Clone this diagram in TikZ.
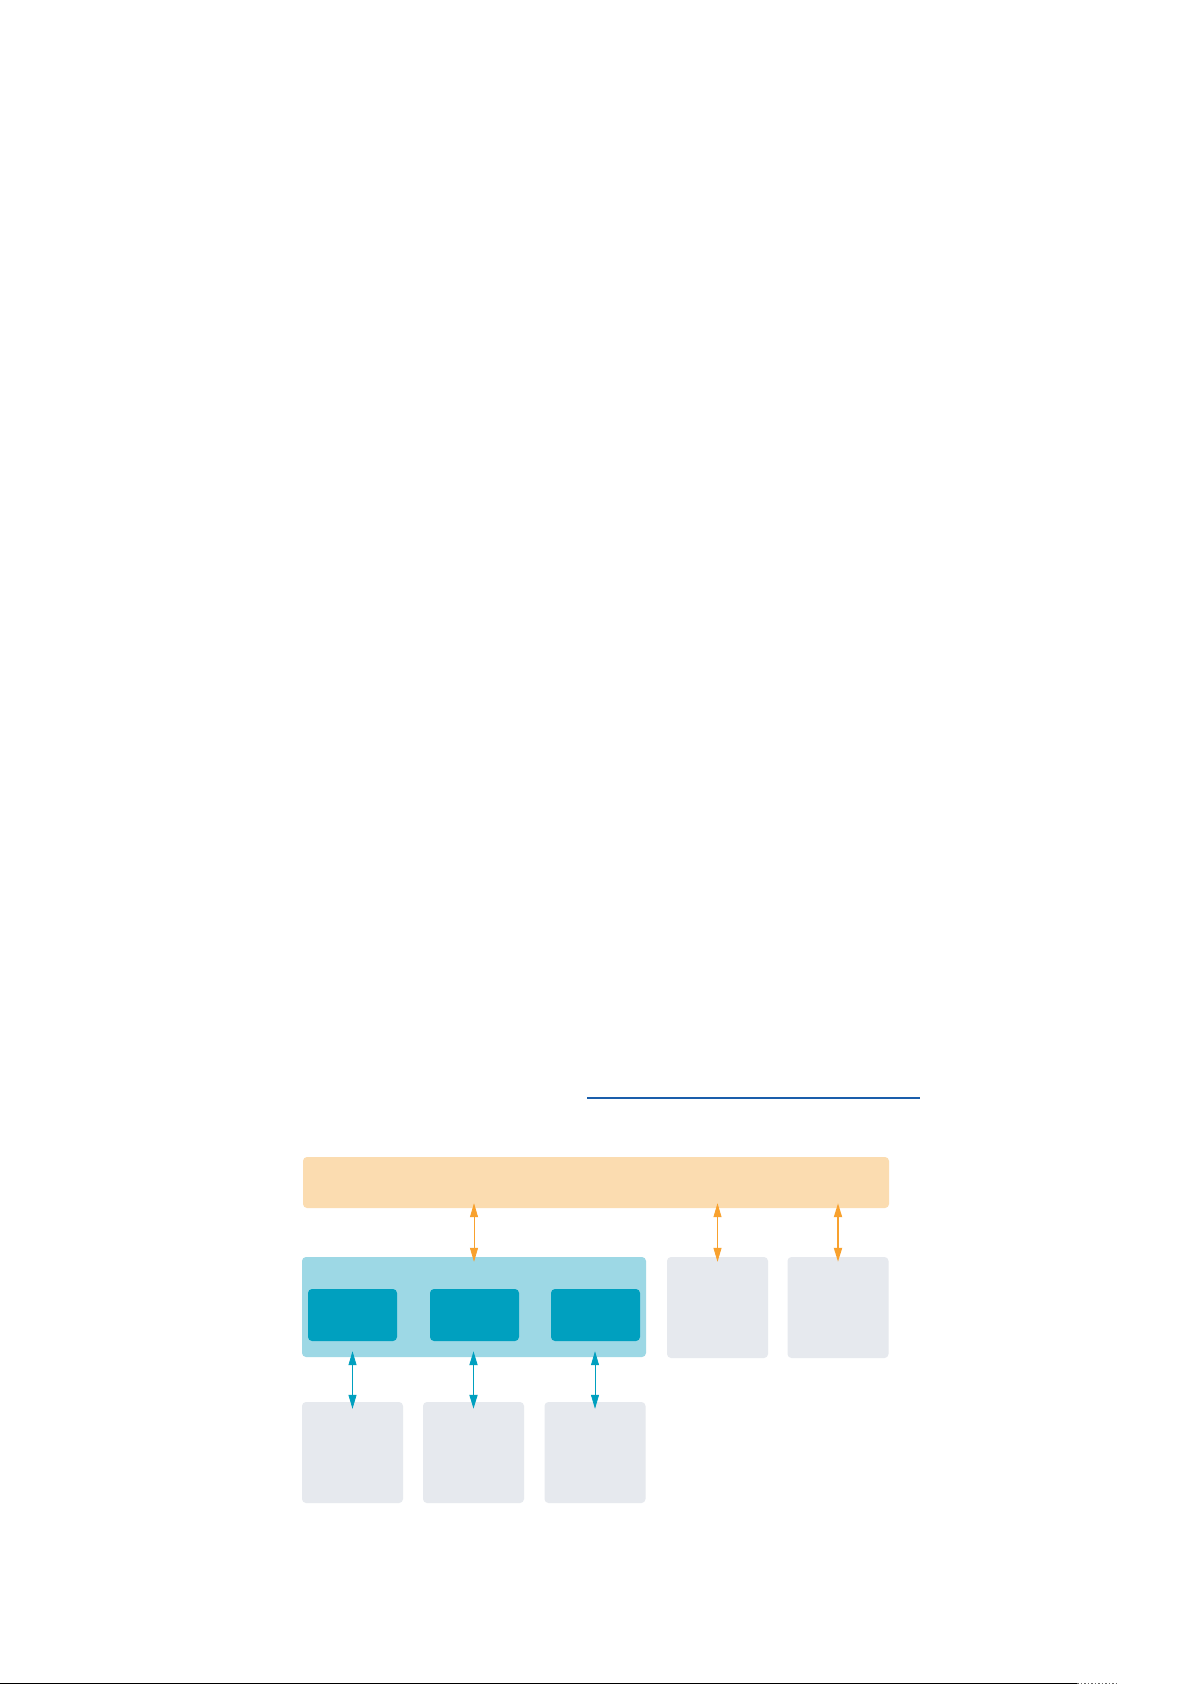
\documentclass[tikz,border=0pt]{standalone}
\usetikzlibrary{arrows.meta}

\definecolor{busfill}{HTML}{FBDCB0}
\definecolor{hostfill}{HTML}{9DD8E5}
\definecolor{corefill}{HTML}{00A0BF}
\definecolor{devfill}{HTML}{E6E9EE}
\definecolor{busline}{HTML}{F8A12E}
\definecolor{coreline}{HTML}{00A0BF}
\definecolor{linkline}{HTML}{1A5EAB}

\tikzset{%
  every box/.style={
    rectangle,
    draw=none,
    inner sep=0pt,
    rounded corners=4pt
  },
  box bus/.style={fill=busfill, minimum width=586pt, minimum height=51pt},
  box host/.style={fill=hostfill, minimum width=344pt, minimum height=100pt},
  box core/.style={fill=corefill, minimum width=89pt, minimum height=52pt},
  box dev/.style={fill=devfill, minimum width=101pt, minimum height=101pt},
  bus link/.style={<->, draw=busline, shorten <=-5pt, shorten >=-5pt},
  core link/.style={<->, draw=coreline, shorten <=-6pt, shorten >=-7pt},
}

\begin{document}
\begin{tikzpicture}[x=1pt, y=-1pt, >={Triangle[length=14pt,width=8pt]}]
\path [fill=white, use as bounding box] (0,0) rectangle (1192,1685);

\draw [linkline, line width=1.5pt] (587,1098) -- (920,1098);

\node [every box/.try, box bus/.try] (bus) at (596,1182.5) {};
\node [every box/.try, box host/.try] (host) at (474,1307) {};

\foreach \x [count=\i] in {352.5,474.5,595.5}
  \node [every box/.try, box core/.try] (core-\i) at (\x,1315) {};

\foreach \x [count=\i] in {717.5,838}
  \node [every box/.try, box dev/.try] (aux-\i) at (\x,1307.5) {};

\foreach \x [count=\i] in {352.5,473.5,595}
  \node [every box/.try, box dev/.try] (dev-\i) at (\x,1452.5) {};

\foreach \t/\w in {host/0.8pt, aux-1/0.8pt, aux-2/1.8pt}
  \draw [bus link, line width=\w] (bus.south -| \t.north) -- (\t.north);

\foreach \w [count=\i] in {0.8pt,1.8pt,0.8pt}
  \draw [core link, line width=\w] (dev-\i.north |- host.south) -- (dev-\i.north);

\draw [black, line width=1.5pt] (0,1683.5) -- (1077,1683.5);
\draw [black!60, line width=1.5pt, dotted] (1077,1683.5) -- (1119,1683.5);

\end{tikzpicture}
\end{document}
